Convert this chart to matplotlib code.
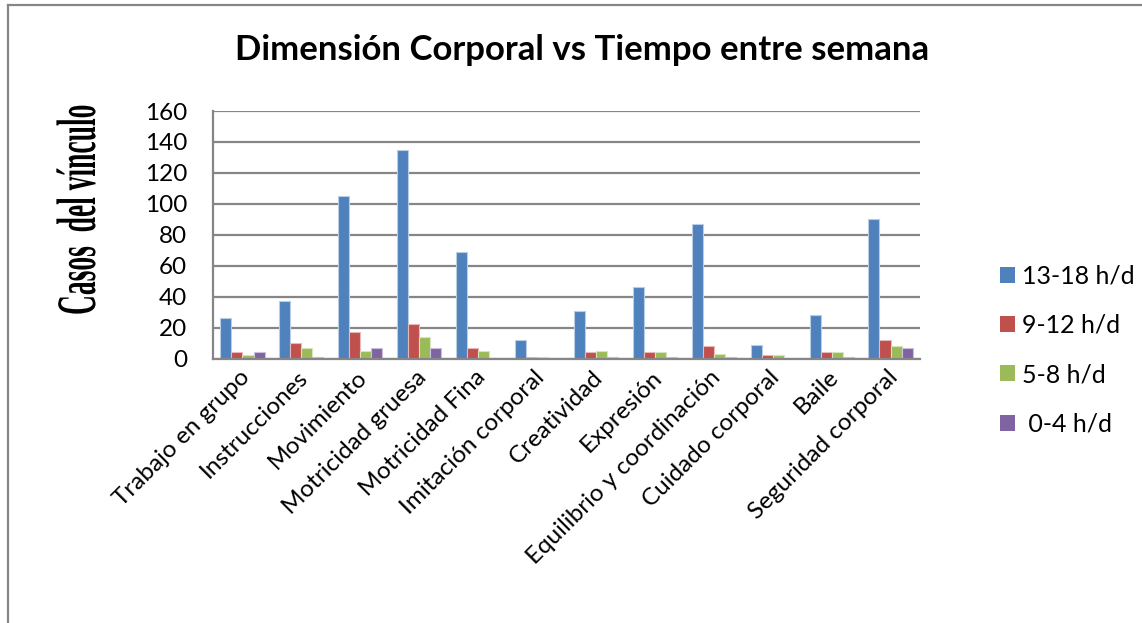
import matplotlib
matplotlib.use("Agg")
import matplotlib.pyplot as plt
import numpy as np
from matplotlib.patches import Patch
from matplotlib.lines import Line2D
from matplotlib.patheffects import AbstractPathEffect
from matplotlib.transforms import Affine2D
from matplotlib.textpath import TextPath
from matplotlib.font_manager import FontProperties

# ---- data -------------------------------------------------------------
categories = [
    "Trabajo en grupo", "Instrucciones", "Movimiento", "Motricidad gruesa",
    "Motricidad Fina", "Imitación corporal", "Creatividad", "Expresión",
    "Equilibrio y coordinación", "Cuidado corporal", "Baile", "Seguridad corporal",
]
series_labels = ["13-18 h/d", "9-12 h/d", "5-8 h/d", " 0-4 h/d"]
h13_18 = [26, 37, 105, 135, 69, 12, 31, 46, 87, 9, 28, 90]
h9_12 = [4, 10, 17, 22, 7, 1, 4, 4, 8, 2, 4, 12]
h5_8 = [2, 7, 5, 14, 5, 1, 5, 4, 3, 2, 4, 8]
h0_4 = [4, 1, 7, 7, 0, 0, 1, 1, 1, 0, 1, 7]
y_ticks = [0, 20, 40, 60, 80, 100, 120, 140, 160]

title = "Dimensión Corporal vs Tiempo entre semana"
y_label = "Casos  del vínculo"

colors = ["#4F81BD", "#C0504D", "#9BBB59", "#8064A2"]
edges = ["#B9CDE5", "#E6B9B8", "#D7E4BD", "#CCC1DA"]
grid_col = "#868686"

plt.rcParams["font.family"] = ["Lato", "DejaVu Sans"]

W, H, DPI = 1142, 623, 100
fig = plt.figure(figsize=(W / DPI, H / DPI), dpi=DPI)


def fx(px):
    return px / W


def fy(py):
    return 1 - py / H


# outer chart frame (top and left edges)
fig.add_artist(Line2D([fx(8), fx(W + 5)], [fy(4.5), fy(4.5)], color=grid_col, lw=1.6))
fig.add_artist(Line2D([fx(8), fx(8)], [fy(4.5), fy(H + 5)], color=grid_col, lw=1.6))

# plot area
left, right, top, bottom = 213, 920, 111, 358.5
ax = fig.add_axes([fx(left), fy(bottom), fx(right - left), (bottom - top) / H])

series = [h13_18, h9_12, h5_8, h0_4]
x = np.arange(len(categories))
bw = 0.1875
for k, vals in enumerate(series):
    ax.bar(x + (k - 1.5) * bw, vals, width=bw, color=colors[k],
           edgecolor=edges[k], linewidth=0.8, zorder=3)

ax.set_xlim(-0.5, len(categories) - 0.5)
ax.set_ylim(0, 160)
ax.set_yticks(y_ticks)
ax.set_yticklabels([str(v) for v in y_ticks], fontsize=17.5)
ax.yaxis.grid(True, color=grid_col, lw=1.6, zorder=0)
ax.set_axisbelow(True)
for s in ["top", "right"]:
    ax.spines[s].set_visible(False)
for s in ["left", "bottom"]:
    ax.spines[s].set_color(grid_col)
    ax.spines[s].set_linewidth(1.6)
    ax.spines[s].set_zorder(4)
ax.tick_params(axis="y", length=0, pad=18.5)

ax.set_xticks(x + 0.06)
ax.set_xticklabels(categories, rotation=45, ha="right", va="center",
                   rotation_mode="anchor", fontsize=17.5)
ax.tick_params(axis="x", length=0, pad=11)

# title
fig.text(fx(582), fy(50), title, ha="center", va="center",
         fontsize=25, fontweight="bold", color="black")


# tall narrow serif axis title: glyphs stretched away from the baseline
class Stretch(AbstractPathEffect):
    def __init__(self, sy):
        super().__init__()
        self.sy = sy

    def draw_path(self, renderer, gc, tpath, affine, rgbFace=None):
        renderer.draw_path(gc, tpath, Affine2D().scale(1, self.sy) + affine, rgbFace)


fp_ref = FontProperties(family="Liberation Serif", weight="bold", size=20)
w20 = TextPath((0, 0), y_label, size=20, prop=fp_ref).get_extents().width * DPI / 72
ylab_size = 20 * 208 / w20
fp = FontProperties(family="Liberation Serif", weight="bold", size=ylab_size)
asc_px = 0.683 * ylab_size * DPI / 72
sy = 38 / asc_px
fig.text(fx(95), fy(315), y_label, rotation=90, rotation_mode="anchor",
         ha="left", va="baseline", fontproperties=fp, color="black",
         path_effects=[Stretch(sy)])

# legend
handles = [Patch(facecolor=c, edgecolor="none") for c in colors]
fig.legend(handles, series_labels, loc="center left",
           bbox_to_anchor=(fx(1000), fy(350)), frameon=False, fontsize=18,
           handlelength=0.6, handleheight=0.6, handletextpad=0.3,
           labelspacing=1.05, borderaxespad=0, borderpad=0)

fig.savefig("out.png", dpi=DPI, facecolor="white")
